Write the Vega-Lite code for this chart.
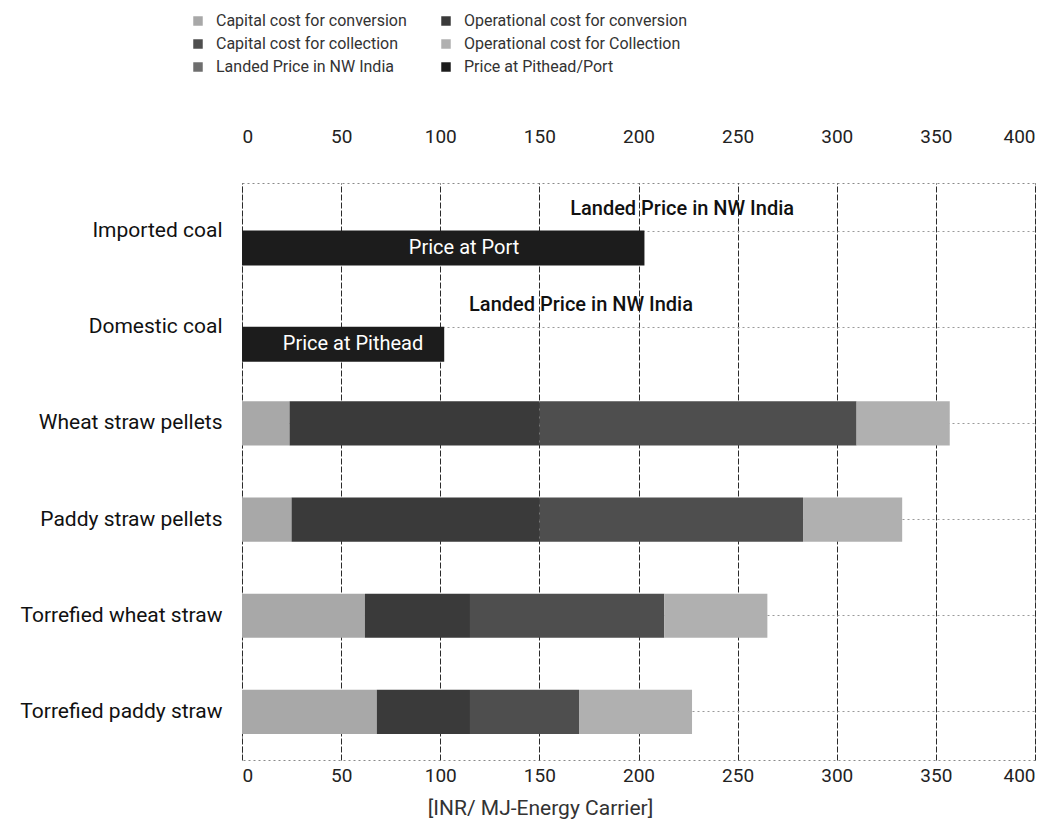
{
  "$schema": "https://vega.github.io/schema/vega-lite/v6.json",
  "width": 793,
  "height": 577,
  "autosize": {"type": "none"},
  "padding": {"left": 242, "top": 183, "right": 24, "bottom": 71},
  "background": "white",
  "config": {
    "font": "Roboto",
    "view": {"stroke": "#8a8a8a", "strokeDash": [2, 3], "strokeWidth": 1},
    "axis": {"labelFont": "Roboto", "titleFont": "Roboto"},
    "legend": {"labelFont": "Roboto"}
  },
  "datasets": {
    "costs": [
      {"fuel": "Imported coal", "component": "Price at Pithead/Port", "seq": 1, "cost": 203},
      {"fuel": "Domestic coal", "component": "Price at Pithead/Port", "seq": 1, "cost": 102},
      {"fuel": "Wheat straw pellets", "component": "Capital cost for conversion", "seq": 1, "cost": 24},
      {"fuel": "Wheat straw pellets", "component": "Operational cost for conversion", "seq": 2, "cost": 126},
      {"fuel": "Wheat straw pellets", "component": "Capital cost for collection", "seq": 3, "cost": 160},
      {"fuel": "Wheat straw pellets", "component": "Operational cost for Collection", "seq": 4, "cost": 47},
      {"fuel": "Paddy straw pellets", "component": "Capital cost for conversion", "seq": 1, "cost": 25},
      {"fuel": "Paddy straw pellets", "component": "Operational cost for conversion", "seq": 2, "cost": 125},
      {"fuel": "Paddy straw pellets", "component": "Capital cost for collection", "seq": 3, "cost": 133},
      {"fuel": "Paddy straw pellets", "component": "Operational cost for Collection", "seq": 4, "cost": 50},
      {"fuel": "Torrefied wheat straw", "component": "Capital cost for conversion", "seq": 1, "cost": 62},
      {"fuel": "Torrefied wheat straw", "component": "Operational cost for conversion", "seq": 2, "cost": 53},
      {"fuel": "Torrefied wheat straw", "component": "Capital cost for collection", "seq": 3, "cost": 98},
      {"fuel": "Torrefied wheat straw", "component": "Operational cost for Collection", "seq": 4, "cost": 52},
      {"fuel": "Torrefied paddy straw", "component": "Capital cost for conversion", "seq": 1, "cost": 68},
      {"fuel": "Torrefied paddy straw", "component": "Operational cost for conversion", "seq": 2, "cost": 47},
      {"fuel": "Torrefied paddy straw", "component": "Capital cost for collection", "seq": 3, "cost": 55},
      {"fuel": "Torrefied paddy straw", "component": "Operational cost for Collection", "seq": 4, "cost": 57}
    ],
    "barLabels": [
      {"fuel": "Imported coal", "note": "Price at Port", "at": 112},
      {"fuel": "Domestic coal", "note": "Price at Pithead", "at": 56}
    ],
    "landedLabels": [
      {"fuel": "Imported coal", "note": "Landed Price in NW India", "at": 222},
      {"fuel": "Domestic coal", "note": "Landed Price in NW India", "at": 171}
    ]
  },
  "resolve": {"axis": {"x": "independent"}},
  "layer": [
    {
      "data": {"name": "costs"},
      "transform": [{"filter": "datum.component !== 'Price at Pithead/Port'"}],
      "mark": {"type": "bar"},
      "encoding": {
        "y": {
          "field": "fuel",
          "type": "nominal",
          "sort": ["Imported coal", "Domestic coal", "Wheat straw pellets", "Paddy straw pellets", "Torrefied wheat straw", "Torrefied paddy straw"],
          "scale": {"domain": ["Imported coal", "Domestic coal", "Wheat straw pellets", "Paddy straw pellets", "Torrefied wheat straw", "Torrefied paddy straw"], "paddingInner": 0.54, "paddingOuter": 0.27},
          "axis": {"title": null, "labelFontSize": 21, "labelColor": "#111", "labelPadding": 20, "labelLimit": 400, "ticks": false, "domain": false, "grid": true, "gridColor": "#9a9a9a", "gridDash": [2, 3], "gridWidth": 1}
        },
        "x": {
          "field": "cost",
          "type": "quantitative",
          "stack": "zero",
          "scale": {"domain": [0, 400], "nice": false},
          "axis": {"orient": "bottom", "values": [0, 50, 100, 150, 200, 250, 300, 350, 400], "labelFontSize": 19, "labelColor": "#222", "labelPadding": 6, "ticks": false, "domain": false, "grid": true, "gridColor": "#2b2b2b", "gridDash": [6, 2], "gridWidth": 1, "title": "[INR/ MJ-Energy Carrier]", "titleFontSize": 21, "titleFontWeight": "normal", "titleColor": "#333", "titleX": 298, "titleY": 48, "titleAlign": "center", "titleBaseline": "middle"}
        },
        "color": {
          "field": "component",
          "type": "nominal",
          "scale": {
            "domain": ["Capital cost for conversion", "Capital cost for collection", "Landed Price in NW India", "Operational cost for conversion", "Operational cost for Collection", "Price at Pithead/Port"],
            "range": ["#a8a8a8", "#4e4e4e", "#6e6e6e", "#3a3a3a", "#b0b0b0", "#1c1c1c"]
          },
          "legend": {"orient": "none", "legendX": -52, "legendY": -170, "columns": 2, "columnPadding": 31, "rowPadding": 7, "labelFontSize": 16, "labelColor": "#333", "labelLimit": 400, "symbolType": "square", "symbolSize": 90, "symbolStrokeWidth": 0, "labelOffset": 10, "title": null}
        },
        "order": {"field": "seq", "type": "quantitative"}
      }
    },
    {
      "data": {"name": "costs"},
      "transform": [{"filter": "datum.component === 'Price at Pithead/Port'"}],
      "mark": {"type": "bar", "height": 35, "yOffset": 17},
      "encoding": {
        "y": {"field": "fuel", "type": "nominal"},
        "x": {
          "field": "cost",
          "type": "quantitative",
          "stack": "zero",
          "axis": {"orient": "top", "values": [0, 50, 100, 150, 200, 250, 300, 350, 400], "labelFontSize": 19, "labelColor": "#222", "labelPadding": 37, "ticks": false, "domain": false, "grid": false, "title": null}
        },
        "color": {"field": "component", "type": "nominal"}
      }
    },
    {
      "data": {"name": "barLabels"},
      "mark": {"type": "text", "color": "white", "fontSize": 20, "dy": 17, "align": "center", "baseline": "middle"},
      "encoding": {
        "y": {"field": "fuel", "type": "nominal"},
        "x": {"field": "at", "type": "quantitative", "axis": null},
        "text": {"field": "note"}
      }
    },
    {
      "data": {"name": "landedLabels"},
      "mark": {"type": "text", "color": "#111", "fontSize": 20, "fontWeight": 500, "dy": -22, "align": "center", "baseline": "middle"},
      "encoding": {
        "y": {"field": "fuel", "type": "nominal"},
        "x": {"field": "at", "type": "quantitative", "axis": null},
        "text": {"field": "note"}
      }
    }
  ]
}
